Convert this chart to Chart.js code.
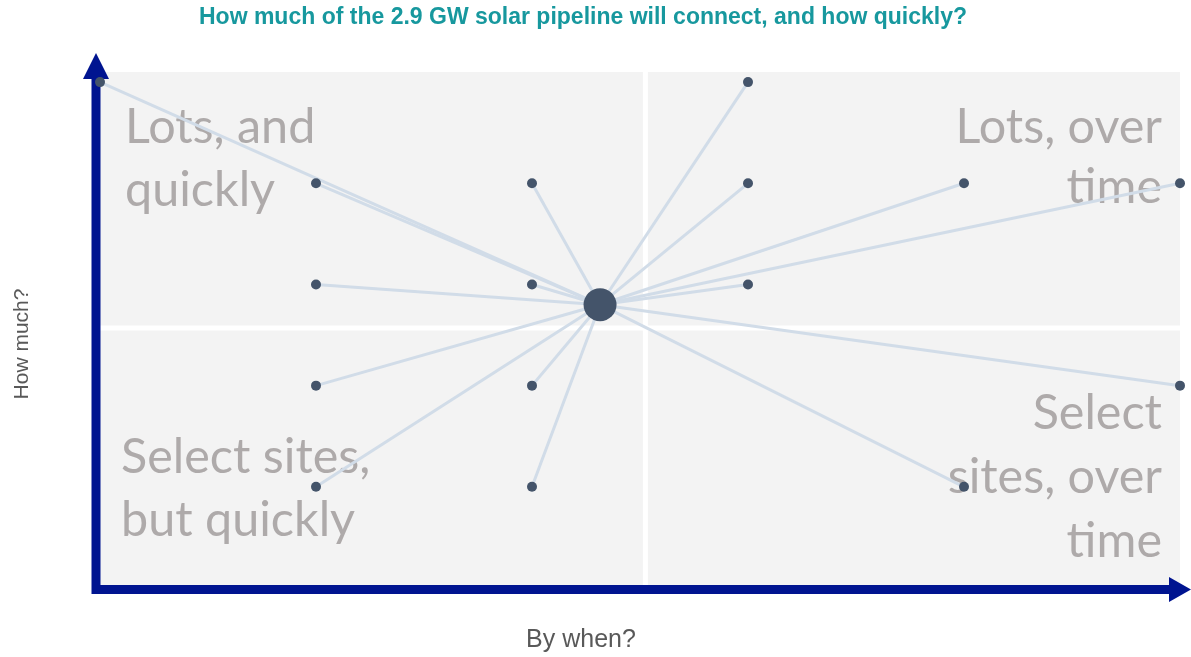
<!DOCTYPE html>
<html>
<head>
<meta charset="utf-8">
<script src="https://cdn.jsdelivr.net/npm/chart.js@4.4.0/dist/chart.umd.min.js"></script>
<style>
  html, body { margin: 0; padding: 0; background: #fff; overflow: hidden; }
</style>
</head>
<body>
<canvas id="quadrant" width="1191" height="657"></canvas>
<script>
// sites: x = timing bucket, y = size bucket
const siteX = [0, 1, 1, 1, 1, 2, 2, 2, 2, 3, 3, 3, 4, 4, 5, 5];
const siteY = [5, 4, 3, 2, 1, 4, 3, 2, 1, 5, 4, 3, 4, 1, 4, 2];
const hubX = 2.315;
const hubY = 2.8;
// quadrant dividers
const splitX = 2.525;
const splitY = 2.57;

const titleText = 'How much of the 2.9 GW solar pipeline will connect, and how quickly?';
const xLabel = 'By when?';
const yLabel = 'How much?';
const quadrantLabels = {
    tl: ['Lots, and', 'quickly'],
    tr: ['Lots, over', 'time'],
    bl: ['Select sites,', 'but quickly'],
    br: ['Select', 'sites, over', 'time']
};

const dotColor = '#44546a';
const spokeColor = '#d1dce8';
const axisColor = '#001490';

const ctx = document.getElementById('quadrant');

const sites = siteX.map((x, i) => ({x: x, y: siteY[i]}));

const spokes = sites.map(p => ({
    type: 'line',
    data: [{x: hubX, y: hubY}, p],
    borderColor: spokeColor,
    borderWidth: 3,
    pointRadius: 0,
    clip: false,
    order: 2
}));

const backdrop = {
    id: 'backdrop',
    beforeDatasetsDraw(chart) {
        const c = chart.ctx;
        const a = chart.chartArea;
        const xs = chart.scales.x, ys = chart.scales.y;
        const mx = xs.getPixelForValue(splitX);
        const my = ys.getPixelForValue(splitY);
        const bottom = 585;
        c.save();
        // grey panel
        c.fillStyle = '#f3f3f3';
        c.fillRect(a.left - 4, a.top, a.right - a.left + 4, bottom - a.top);
        c.strokeStyle = '#ffffff';
        c.lineWidth = 5;
        c.beginPath();
        c.moveTo(mx, a.top); c.lineTo(mx, bottom);
        c.moveTo(a.left - 4, my); c.lineTo(a.right, my);
        c.stroke();

        // quadrant words
        c.fillStyle = '#aeaaaa';
        c.font = '48.5px Lato';
        c.textBaseline = 'middle';
        c.textAlign = 'left';
        quadrantLabels.tl.forEach((t, i) => c.fillText(t, 125, 127 + i * 63));
        quadrantLabels.bl.forEach((t, i) => c.fillText(t, 121, 457 + i * 63));
        c.textAlign = 'right';
        quadrantLabels.tr.forEach((t, i) => c.fillText(t, 1162, 127 + i * 60));
        quadrantLabels.br.forEach((t, i) => c.fillText(t, 1162, 413 + i * 64));

        // axes with arrows
        c.strokeStyle = axisColor;
        c.fillStyle = axisColor;
        c.lineWidth = 9;
        c.beginPath();
        c.moveTo(96, 594); c.lineTo(96, 75);
        c.moveTo(92, 589.5); c.lineTo(1172, 589.5);
        c.stroke();
        c.beginPath();
        c.moveTo(96, 53); c.lineTo(83, 79); c.lineTo(109, 79); c.closePath();
        c.moveTo(1191, 589.5); c.lineTo(1169, 577); c.lineTo(1169, 602); c.closePath();
        c.fill();

        // titles
        c.textAlign = 'center';
        c.fillStyle = '#17989e';
        c.font = 'bold 23px "Liberation Sans"';
        c.fillText(titleText, 583, 18);
        c.fillStyle = '#595959';
        c.font = '25px "Liberation Sans"';
        c.fillText(xLabel, 581, 640);
        c.font = '21px "Liberation Sans"';
        c.translate(22, 344);
        c.rotate(-Math.PI / 2);
        c.fillText(yLabel, 0, 0);
        c.restore();
    }
};

new Chart(ctx, {
    type: 'scatter',
    data: {
        datasets: [
            {
                data: sites,
                backgroundColor: dotColor,
                borderWidth: 0,
                pointRadius: 5,
                clip: false,
                order: 0
            },
            {
                data: [{x: hubX, y: hubY}],
                backgroundColor: dotColor,
                borderWidth: 0,
                pointRadius: 16.5,
                clip: false,
                order: 1
            },
            ...spokes
        ]
    },
    options: {
        responsive: false,
        animation: false,
        layout: {
            autoPadding: false,
            padding: {left: 100, right: 11, top: 72, bottom: 69}
        },
        scales: {
            x: {display: false, min: 0, max: 5},
            y: {display: false, min: 0, max: 5.1}
        },
        plugins: {
            legend: {display: false},
            tooltip: {enabled: false}
        }
    },
    plugins: [backdrop]
});
</script>
</body>
</html>
